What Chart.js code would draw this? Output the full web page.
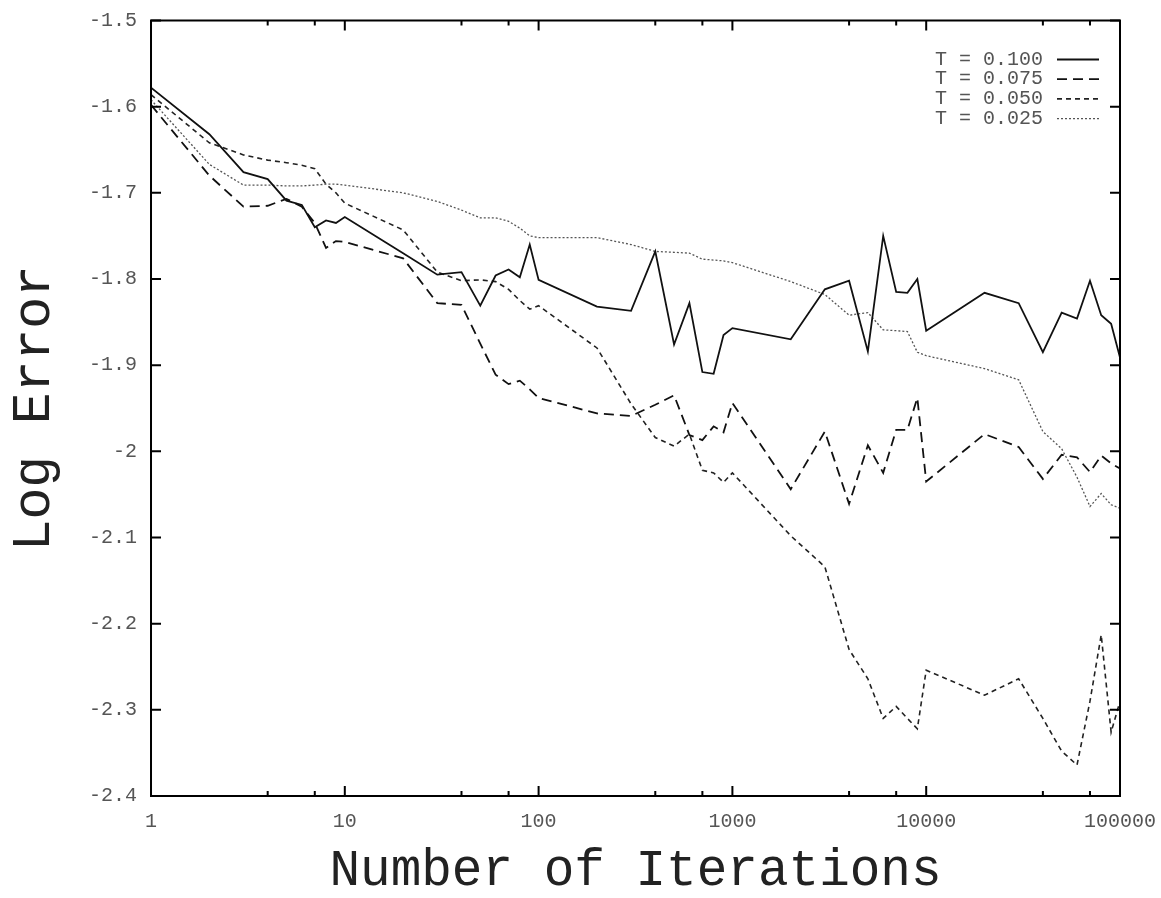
<!DOCTYPE html>
<html>
<head>
<meta charset="utf-8">
<script src="https://cdn.jsdelivr.net/npm/chart.js@4/dist/chart.umd.min.js"></script>
<style>
  body { margin: 0; background: #fff; }
  canvas { display: block; }
</style>
</head>
<body>
<canvas id="errChart" width="1161" height="898"></canvas>
<script>
// iterations sampled on the log axis
const iterations = [1, 2, 3, 4, 5, 6, 7, 8, 9, 10,
  20, 30, 40, 50, 60, 70, 80, 90, 100,
  200, 300, 400, 500, 600, 700, 800, 900, 1000,
  2000, 3000, 4000, 5000, 6000, 7000, 8000, 9000, 10000,
  20000, 30000, 40000, 50000, 60000, 70000, 80000, 90000, 100000];

// log error per temperature
const errT100 = [-1.578, -1.632, -1.676, -1.684, -1.709, -1.714, -1.740, -1.732, -1.735, -1.728,
  -1.770, -1.795, -1.792, -1.831, -1.796, -1.789, -1.798, -1.760, -1.801,
  -1.832, -1.837, -1.768, -1.876, -1.828, -1.908, -1.910, -1.865, -1.857,
  -1.870, -1.812, -1.802, -1.884, -1.750, -1.815, -1.816, -1.800, -1.860,
  -1.816, -1.828, -1.885, -1.839, -1.846, -1.802, -1.842, -1.852, -1.891];
const errT075 = [-1.598, -1.680, -1.716, -1.715, -1.707, -1.716, -1.735, -1.764, -1.756, -1.757,
  -1.776, -1.828, -1.830, -1.875, -1.911, -1.922, -1.918, -1.928, -1.938,
  -1.956, -1.959, -1.946, -1.935, -1.981, -1.987, -1.971, -1.978, -1.944,
  -2.044, -1.977, -2.061, -1.993, -2.025, -1.975, -1.975, -1.938, -2.035,
  -1.980, -1.995, -2.032, -2.004, -2.007, -2.024, -2.005, -2.014, -2.020];
const errT050 = [-1.586, -1.642, -1.656, -1.662, -1.665, -1.668, -1.672, -1.690, -1.700, -1.712,
  -1.743, -1.792, -1.802, -1.801, -1.803, -1.812, -1.825, -1.835, -1.831,
  -1.880, -1.945, -1.984, -1.994, -1.980, -2.022, -2.025, -2.036, -2.025,
  -2.098, -2.134, -2.230, -2.264, -2.310, -2.296, -2.310, -2.322, -2.254,
  -2.283, -2.264, -2.310, -2.348, -2.364, -2.290, -2.213, -2.326, -2.290];
const errT025 = [-1.592, -1.667, -1.691, -1.691, -1.692, -1.692, -1.691, -1.690, -1.690, -1.691,
  -1.700, -1.710, -1.720, -1.729, -1.729, -1.733, -1.741, -1.750, -1.752,
  -1.752, -1.760, -1.768, -1.769, -1.770, -1.777, -1.778, -1.779, -1.781,
  -1.803, -1.818, -1.842, -1.839, -1.859, -1.860, -1.861, -1.885, -1.889,
  -1.904, -1.917, -1.977, -1.997, -2.030, -2.064, -2.049, -2.062, -2.066];

const seriesLabels = ["T = 0.100", "T = 0.075", "T = 0.050", "T = 0.025"];

// axis ticks
const xTickValues = [1, 4, 7, 10, 40, 70, 100, 400, 700, 1000, 4000, 7000, 10000, 40000, 70000, 100000];
const xTickLabels = [1, 10, 100, 1000, 10000, 100000];
const yTickValues = [-2.4, -2.3, -2.2, -2.1, -2.0, -1.9, -1.8, -1.7, -1.6, -1.5];

const monoFont = "'Liberation Mono', 'DejaVu Sans Mono', monospace";

function toPoints(vals) {
    return iterations.map((it, i) => ({ x: it, y: vals[i] }));
}

// draws the box, inward tick marks and the legend
const framePlugin = {
    id: "frame",
    afterDraw(chart) {
        const ctx = chart.ctx;
        const a = chart.chartArea;
        const xs = chart.scales.x;
        const ys = chart.scales.y;
        ctx.save();
        ctx.strokeStyle = "#000";
        ctx.lineWidth = 2;
        ctx.strokeRect(a.left, a.top, a.right - a.left, a.bottom - a.top);
        ctx.beginPath();
        xs.ticks.forEach(t => {
            const px = xs.getPixelForValue(t.value);
            const len = xTickLabels.includes(t.value) ? 10 : 5;
            ctx.moveTo(px, a.bottom);
            ctx.lineTo(px, a.bottom - len);
            ctx.moveTo(px, a.top);
            ctx.lineTo(px, a.top + len);
        });
        ys.ticks.forEach(t => {
            const py = ys.getPixelForValue(t.value);
            ctx.moveTo(a.left, py);
            ctx.lineTo(a.left + 10, py);
            ctx.moveTo(a.right, py);
            ctx.lineTo(a.right - 10, py);
        });
        ctx.stroke();

        // legend
        ctx.font = "20px " + monoFont;
        ctx.textAlign = "right";
        ctx.textBaseline = "middle";
        chart.data.datasets.forEach((ds, i) => {
            const y = a.top + 39 + i * 19.7;
            ctx.fillStyle = "#555";
            ctx.fillText(ds.label, a.right - 77, y);
            ctx.strokeStyle = ds.borderColor;
            ctx.lineWidth = ds.borderWidth;
            ctx.setLineDash(ds.borderDash || []);
            ctx.beginPath();
            ctx.moveTo(a.right - 63, y);
            ctx.lineTo(a.right - 21, y);
            ctx.stroke();
        });
        ctx.restore();
    }
};

new Chart(document.getElementById("errChart"), {
    type: "line",
    data: {
        datasets: [
            { label: seriesLabels[0], data: toPoints(errT100), borderColor: "#111", borderWidth: 1.8, borderDash: [] },
            { label: seriesLabels[1], data: toPoints(errT075), borderColor: "#111", borderWidth: 1.8, borderDash: [10, 6] },
            { label: seriesLabels[2], data: toPoints(errT050), borderColor: "#222", borderWidth: 1.6, borderDash: [5, 4] },
            { label: seriesLabels[3], data: toPoints(errT025), borderColor: "#555", borderWidth: 1.3, borderDash: [2, 2] }
        ]
    },
    options: {
        responsive: false,
        animation: false,
        devicePixelRatio: 1,
        layout: { padding: { left: 8, right: 0, top: 0, bottom: 0 } },
        elements: {
            point: { radius: 0 },
            line: { tension: 0, fill: false }
        },
        plugins: {
            legend: { display: false },
            tooltip: { enabled: false }
        },
        scales: {
            x: {
                type: "logarithmic",
                min: 1,
                max: 100000,
                afterBuildTicks: s => { s.ticks = xTickValues.map(v => ({ value: v })); },
                // room for the last label so the frame ends near x=1120
                afterFit: s => { s.paddingRight = 41; },
                ticks: {
                    autoSkip: false,
                    maxRotation: 0,
                    padding: 14,
                    color: "#555",
                    font: { family: monoFont, size: 20 },
                    callback: v => xTickLabels.includes(v) ? String(v) : ""
                },
                grid: { display: false, drawTicks: false },
                border: { display: false },
                title: {
                    display: true,
                    text: "Number of Iterations",
                    color: "#222",
                    font: { family: monoFont, size: 51, lineHeight: 1 },
                    padding: { top: -2, bottom: 1 }
                }
            },
            y: {
                min: -2.4,
                max: -1.5,
                afterBuildTicks: s => { s.ticks = yTickValues.map(v => ({ value: v })); },
                afterFit: s => { s.paddingTop = 20.5; },
                ticks: {
                    padding: 14,
                    color: "#555",
                    font: { family: monoFont, size: 20 },
                    callback: v => String(+v.toFixed(1))
                },
                grid: { display: false, drawTicks: false },
                border: { display: false },
                title: {
                    display: true,
                    text: "Log Error",
                    color: "#222",
                    font: { family: monoFont, size: 53, lineHeight: 1 },
                    padding: { top: 0, bottom: 14 }
                }
            }
        }
    },
    plugins: [framePlugin]
});
</script>
</body>
</html>
